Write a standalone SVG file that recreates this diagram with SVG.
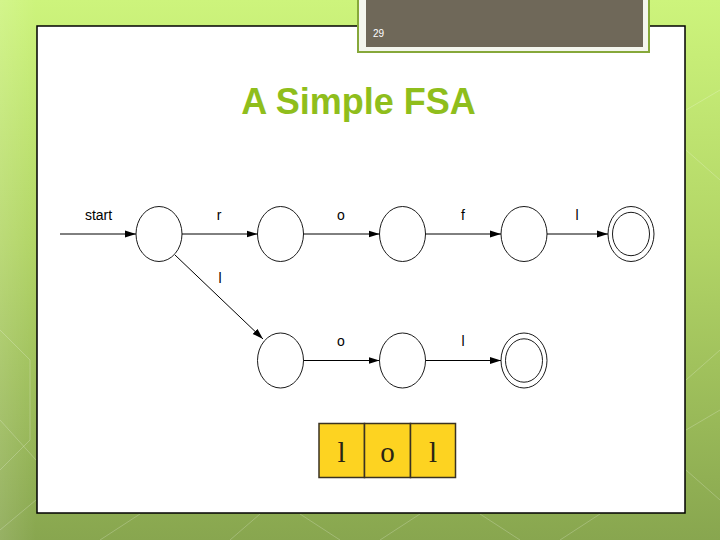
<svg xmlns="http://www.w3.org/2000/svg" width="720" height="540" viewBox="0 0 720 540">
<defs>
<linearGradient id="bg" x1="0" y1="0" x2="0" y2="1">
<stop offset="0" stop-color="#cdf47c"/>
<stop offset="0.45" stop-color="#b2d566"/>
<stop offset="1" stop-color="#88a64f"/>
</linearGradient>
<linearGradient id="side" x1="0" y1="0" x2="1" y2="0">
<stop offset="0" stop-color="#ffffff" stop-opacity="0.12"/>
<stop offset="1" stop-color="#ffffff" stop-opacity="0"/>
</linearGradient>
<marker id="arr" markerWidth="11" markerHeight="8" refX="11" refY="4" orient="auto" markerUnits="userSpaceOnUse">
<path d="M0,0.5 L11,4 L0,7.5 z" fill="#000"/>
</marker>
</defs>
<style>
.st{fill:none;stroke:#000;stroke-width:0.9}
.edge{fill:none;stroke:#000;stroke-width:1;marker-end:url(#arr)}
.lbl{font-family:"Liberation Sans",Arial,sans-serif;font-size:14px;fill:#000;text-anchor:middle}
.tape{fill:#fdd321;stroke:#3a3222;stroke-width:1.5}
.tt{font-family:"Liberation Serif","Times New Roman",serif;font-size:29px;fill:#2a2414;text-anchor:middle}
.bgl{fill:none;stroke:#ffffff;stroke-opacity:0.22;stroke-width:1}
</style>
<rect x="0" y="0" width="720" height="540" fill="url(#bg)"/>
<rect x="0" y="0" width="36" height="540" fill="url(#side)"/>
<g class="bgl">
<path d="M0,330 L30,360 L30,440 L0,470"/>
<path d="M0,420 L36,460 M36,500 L0,530"/>
<path d="M686,380 L720,350 M686,430 L720,410 M686,470 L720,500"/>
<path d="M140,514 L100,540 M260,514 L230,540 M300,514 L340,540 M420,514 L380,540 M480,514 L520,540 M560,540 L600,514"/>
<path d="M686,110 L720,90 M686,150 L720,180"/>
</g>
<rect x="37" y="26" width="648" height="487" fill="#ffffff" stroke="#000" stroke-width="1.5"/>
<g id="pagebox">
<rect x="358" y="-2" width="291" height="54" fill="#f4f6ee" stroke="#86a83a" stroke-width="2"/>
<rect x="366" y="0" width="277" height="47" fill="#6f6859"/>
<text x="373" y="37" font-family="'Liberation Sans',Arial,sans-serif" font-size="10" fill="#ffffff">29</text>
</g>
<text id="title" x="358.5" y="114" font-family="'Liberation Sans',Arial,sans-serif" font-size="36" font-weight="bold" fill="#8fbe1c" text-anchor="middle">A Simple FSA</text>
<g id="connectors">
<line class="edge" x1="60" y1="234" x2="136" y2="234"/>
<line class="edge" x1="182" y1="234" x2="257.5" y2="234"/>
<line class="edge" x1="303.5" y1="234" x2="379.5" y2="234"/>
<line class="edge" x1="425.5" y1="234" x2="501" y2="234"/>
<line class="edge" x1="547" y1="234" x2="608" y2="234"/>
<line class="edge" x1="175" y1="255" x2="263" y2="339"/>
<line class="edge" x1="303.5" y1="360.5" x2="379.5" y2="360.5"/>
<line class="edge" x1="425.5" y1="360.5" x2="501" y2="360.5"/>
<text class="lbl" x="98.5" y="220">start</text>
<text class="lbl" x="219" y="220">r</text>
<text class="lbl" x="341" y="220">o</text>
<text class="lbl" x="463" y="220">f</text>
<text class="lbl" x="577" y="220">l</text>
<text class="lbl" x="220" y="283">l</text>
<text class="lbl" x="341" y="346">o</text>
<text class="lbl" x="463" y="346">l</text>
</g>
<g id="q0"><ellipse class="st" cx="159" cy="234" rx="23" ry="27.5"/></g>
<g id="q1"><ellipse class="st" cx="280.5" cy="234" rx="23" ry="27.5"/></g>
<g id="q2"><ellipse class="st" cx="402.5" cy="234" rx="23" ry="27.5"/></g>
<g id="q3"><ellipse class="st" cx="524" cy="234" rx="23" ry="27.5"/></g>
<g id="q4"><ellipse class="st" cx="631" cy="234" rx="23" ry="27.5"/><ellipse class="st" cx="631" cy="234" rx="18.5" ry="21.7"/></g>
<g id="q5"><ellipse class="st" cx="280.5" cy="360.5" rx="23" ry="27.5"/></g>
<g id="q6"><ellipse class="st" cx="402.5" cy="360.5" rx="23" ry="27.5"/></g>
<g id="q7"><ellipse class="st" cx="524" cy="360.5" rx="23" ry="27.5"/><ellipse class="st" cx="524" cy="360.5" rx="18.5" ry="21.7"/></g>
<g id="tape">
<rect class="tape" x="319" y="423.5" width="45.5" height="54"/>
<rect class="tape" x="364.5" y="423.5" width="46" height="54"/>
<rect class="tape" x="410.5" y="423.5" width="45" height="54"/>
<text class="tt" x="341.5" y="462">l</text>
<text class="tt" x="387.5" y="462">o</text>
<text class="tt" x="433" y="462">l</text>
</g>
</svg>
